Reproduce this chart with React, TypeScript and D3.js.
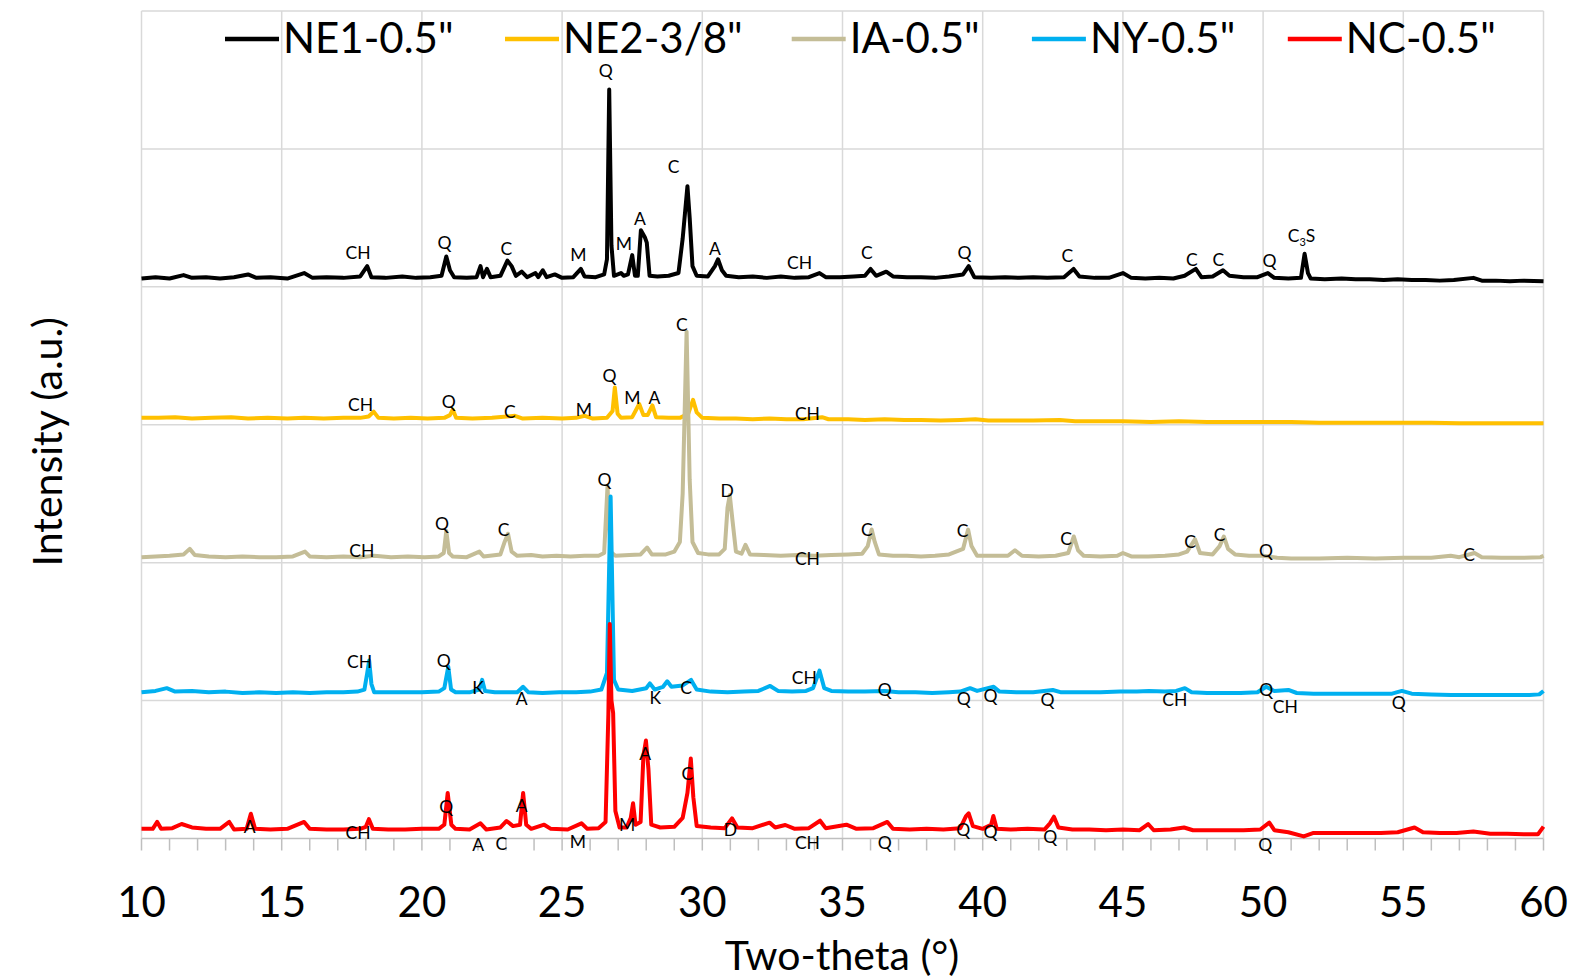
import React from 'react';
import * as d3 from 'd3';

type Pt = [number, number];
type Lbl = [number, number, string];

const SERIES_NAMES = ['NE1-0.5"', 'NE2-3/8"', 'IA-0.5"', 'NY-0.5"', 'NC-0.5"'];
const COLORS = ['#000000', '#FFC000', '#C4BD97', '#00B0F0', '#FF0000'];
const X_TICKS = [10, 15, 20, 25, 30, 35, 40, 45, 50, 55, 60];
const Y_GRID = [0, 1, 2, 3, 4, 5, 6];

const NE1: Pt[] = [[10.0,4.06],[10.5,4.07],[11.0,4.06],[11.5,4.085],[11.8,4.065],[12.3,4.07],[12.8,4.06],[13.3,4.07],[13.8,4.09],[14.1,4.065],[14.6,4.07],[15.2,4.06],[15.8,4.10],[16.1,4.065],[16.6,4.07],[17.2,4.065],[17.8,4.075],[18.05,4.15],[18.2,4.07],[18.7,4.065],[19.3,4.075],[19.8,4.065],[20.3,4.07],[20.7,4.08],[20.87,4.22],[21.0,4.12],[21.15,4.07],[21.6,4.065],[21.95,4.07],[22.09,4.15],[22.18,4.07],[22.32,4.13],[22.45,4.07],[22.8,4.08],[23.05,4.19],[23.2,4.15],[23.35,4.08],[23.56,4.11],[23.75,4.07],[24.05,4.10],[24.15,4.07],[24.31,4.12],[24.45,4.07],[24.74,4.09],[25.0,4.065],[25.4,4.07],[25.67,4.13],[25.8,4.075],[26.2,4.07],[26.5,4.09],[26.6,4.2],[26.68,5.43],[26.76,4.3],[26.85,4.08],[27.1,4.10],[27.2,4.08],[27.35,4.09],[27.5,4.23],[27.6,4.08],[27.7,4.08],[27.81,4.41],[27.95,4.36],[28.02,4.32],[28.12,4.08],[28.4,4.075],[28.8,4.08],[29.15,4.1],[29.3,4.35],[29.47,4.73],[29.55,4.5],[29.65,4.15],[29.8,4.08],[30.2,4.075],[30.45,4.15],[30.56,4.2],[30.7,4.12],[30.85,4.08],[31.3,4.07],[31.8,4.075],[32.3,4.065],[32.8,4.075],[33.3,4.065],[33.8,4.07],[34.18,4.1],[34.4,4.07],[34.9,4.07],[35.4,4.075],[35.8,4.08],[36.0,4.13],[36.2,4.08],[36.56,4.11],[36.8,4.075],[37.3,4.07],[37.8,4.07],[38.3,4.065],[38.8,4.075],[39.3,4.09],[39.5,4.15],[39.7,4.07],[40.3,4.065],[40.8,4.07],[41.3,4.065],[41.8,4.07],[42.3,4.065],[42.9,4.07],[43.24,4.13],[43.45,4.075],[44.0,4.065],[44.5,4.065],[45.0,4.10],[45.3,4.065],[45.8,4.06],[46.3,4.065],[46.8,4.06],[47.2,4.08],[47.6,4.13],[47.8,4.07],[48.2,4.075],[48.57,4.12],[48.8,4.08],[49.3,4.07],[49.8,4.07],[50.17,4.10],[50.4,4.065],[50.9,4.06],[51.35,4.065],[51.48,4.24],[51.6,4.10],[51.7,4.06],[52.2,4.055],[52.8,4.06],[53.3,4.055],[53.8,4.055],[54.3,4.05],[54.8,4.055],[55.3,4.05],[55.8,4.05],[56.3,4.045],[56.8,4.05],[57.5,4.065],[57.8,4.045],[58.3,4.045],[58.8,4.04],[59.3,4.045],[60,4.04]];

const NE2: Pt[] = [[10,3.05],[10.6,3.05],[11.2,3.055],[11.8,3.045],[12.5,3.05],[13.2,3.055],[13.8,3.045],[14.5,3.05],[15.2,3.045],[15.8,3.05],[16.5,3.045],[17.2,3.05],[17.8,3.05],[18.1,3.06],[18.28,3.095],[18.45,3.05],[19.0,3.045],[19.6,3.05],[20.2,3.045],[20.8,3.05],[21.0,3.07],[21.1,3.11],[21.22,3.05],[21.8,3.045],[22.5,3.05],[23.32,3.065],[23.6,3.045],[24.3,3.05],[25.0,3.045],[25.5,3.05],[25.81,3.065],[26.1,3.045],[26.6,3.05],[26.8,3.1],[26.88,3.27],[26.98,3.08],[27.1,3.05],[27.5,3.055],[27.75,3.15],[27.9,3.07],[28.05,3.07],[28.22,3.14],[28.35,3.055],[28.8,3.05],[29.2,3.05],[29.5,3.08],[29.67,3.18],[29.8,3.09],[30.0,3.05],[30.6,3.045],[31.2,3.045],[31.8,3.04],[32.4,3.045],[33.0,3.04],[33.6,3.04],[34.27,3.055],[34.5,3.04],[35.2,3.04],[35.8,3.035],[36.5,3.04],[37.2,3.035],[37.8,3.035],[38.5,3.03],[39.2,3.035],[39.74,3.04],[40.2,3.03],[41.0,3.03],[41.8,3.03],[42.75,3.035],[43.3,3.025],[44.0,3.025],[45.0,3.025],[46.0,3.02],[47.0,3.025],[48.0,3.02],[49.0,3.02],[50.0,3.02],[51.0,3.02],[52.0,3.015],[53.0,3.015],[54.0,3.015],[55.0,3.015],[56.0,3.015],[57.0,3.01],[58.0,3.01],[59.0,3.01],[60,3.01]];

const IA: Pt[] = [[10,2.04],[10.5,2.045],[11.0,2.05],[11.5,2.06],[11.72,2.10],[11.9,2.055],[12.4,2.045],[13.0,2.04],[13.6,2.045],[14.2,2.04],[14.8,2.04],[15.4,2.045],[15.83,2.08],[16.0,2.045],[16.6,2.04],[17.2,2.045],[17.8,2.04],[18.3,2.05],[18.9,2.04],[19.5,2.045],[20.1,2.04],[20.6,2.045],[20.78,2.07],[20.87,2.23],[20.97,2.07],[21.1,2.045],[21.6,2.04],[22.05,2.08],[22.2,2.045],[22.8,2.06],[22.95,2.15],[23.07,2.21],[23.2,2.08],[23.4,2.05],[23.9,2.055],[24.3,2.045],[24.8,2.05],[25.3,2.045],[25.8,2.05],[26.3,2.05],[26.5,2.07],[26.62,2.556],[26.72,2.08],[26.9,2.05],[27.4,2.055],[27.8,2.06],[28.03,2.11],[28.2,2.06],[28.7,2.06],[29.0,2.08],[29.2,2.15],[29.3,2.5],[29.44,3.675],[29.55,2.6],[29.65,2.15],[29.85,2.07],[30.2,2.06],[30.6,2.06],[30.8,2.1],[30.9,2.4],[30.98,2.49],[31.08,2.3],[31.2,2.08],[31.4,2.065],[31.54,2.13],[31.7,2.06],[32.2,2.055],[32.8,2.05],[33.4,2.055],[34.0,2.05],[34.6,2.055],[35.2,2.06],[35.7,2.065],[35.9,2.12],[36.04,2.24],[36.15,2.15],[36.3,2.06],[36.8,2.05],[37.3,2.05],[37.8,2.045],[38.3,2.05],[38.8,2.06],[39.3,2.1],[39.48,2.24],[39.6,2.12],[39.8,2.05],[40.4,2.05],[40.9,2.05],[41.15,2.09],[41.4,2.05],[42.0,2.045],[42.6,2.05],[43.05,2.07],[43.25,2.19],[43.4,2.09],[43.6,2.05],[44.2,2.045],[44.8,2.05],[45.0,2.07],[45.3,2.045],[45.9,2.045],[46.5,2.05],[47.0,2.06],[47.29,2.08],[47.57,2.17],[47.75,2.07],[48.2,2.06],[48.45,2.12],[48.6,2.19],[48.75,2.1],[49.0,2.06],[49.5,2.05],[50.0,2.05],[50.5,2.035],[51.0,2.03],[52.0,2.03],[53.0,2.035],[54.0,2.03],[55.0,2.035],[56.0,2.035],[56.69,2.05],[57.0,2.04],[57.54,2.07],[57.8,2.04],[58.5,2.035],[59.3,2.035],[59.9,2.04],[60,2.05]];

const NY: Pt[] = [[10,1.06],[10.5,1.07],[10.9,1.09],[11.2,1.065],[11.8,1.07],[12.4,1.06],[13.0,1.065],[13.6,1.055],[14.2,1.06],[14.8,1.055],[15.4,1.06],[16.0,1.055],[16.6,1.06],[17.2,1.06],[17.7,1.065],[17.95,1.08],[18.05,1.2],[18.12,1.29],[18.2,1.12],[18.3,1.06],[18.8,1.06],[19.4,1.06],[20.0,1.06],[20.6,1.065],[20.8,1.09],[20.94,1.245],[21.04,1.08],[21.2,1.06],[21.7,1.06],[22.05,1.08],[22.15,1.15],[22.25,1.07],[22.6,1.06],[23.0,1.06],[23.4,1.06],[23.61,1.10],[23.8,1.06],[24.3,1.055],[24.9,1.06],[25.5,1.06],[26.0,1.065],[26.4,1.08],[26.6,1.2],[26.73,2.48],[26.85,1.15],[27.0,1.08],[27.5,1.07],[28.0,1.09],[28.13,1.125],[28.3,1.08],[28.6,1.1],[28.75,1.14],[28.9,1.1],[29.3,1.11],[29.6,1.15],[29.8,1.08],[30.3,1.065],[30.9,1.06],[31.5,1.065],[32.0,1.07],[32.42,1.106],[32.7,1.07],[33.2,1.065],[33.7,1.07],[33.95,1.09],[34.18,1.217],[34.35,1.09],[34.6,1.07],[35.2,1.065],[35.8,1.065],[36.5,1.07],[37.0,1.06],[37.6,1.06],[38.2,1.055],[38.8,1.06],[39.2,1.065],[39.55,1.09],[39.8,1.07],[40.39,1.10],[40.6,1.065],[41.2,1.06],[41.8,1.06],[42.5,1.077],[42.8,1.06],[43.5,1.06],[44.2,1.06],[44.9,1.065],[45.5,1.065],[45.93,1.07],[46.5,1.065],[46.9,1.07],[47.21,1.09],[47.45,1.06],[48.0,1.055],[48.6,1.055],[49.2,1.055],[49.8,1.06],[50.11,1.10],[50.4,1.07],[50.9,1.077],[51.2,1.055],[51.8,1.05],[52.5,1.05],[53.2,1.05],[53.9,1.05],[54.6,1.05],[54.95,1.07],[55.3,1.05],[56.0,1.045],[56.7,1.04],[57.4,1.04],[58.1,1.04],[58.8,1.04],[59.5,1.04],[59.85,1.045],[60,1.07]];

const NC: Pt[] = [[10,0.07],[10.4,0.07],[10.56,0.12],[10.7,0.07],[11.1,0.075],[11.43,0.105],[11.8,0.08],[12.3,0.07],[12.8,0.07],[13.13,0.12],[13.3,0.065],[13.75,0.07],[13.9,0.18],[14.05,0.07],[14.6,0.065],[15.2,0.07],[15.8,0.12],[16.0,0.07],[16.6,0.065],[17.2,0.065],[17.8,0.07],[18.0,0.085],[18.11,0.14],[18.25,0.07],[18.8,0.065],[19.4,0.065],[20.0,0.07],[20.6,0.07],[20.8,0.1],[20.92,0.33],[21.05,0.1],[21.2,0.07],[21.7,0.065],[22.09,0.11],[22.3,0.065],[22.8,0.08],[23.02,0.127],[23.25,0.09],[23.5,0.1],[23.61,0.33],[23.72,0.1],[23.9,0.07],[24.36,0.10],[24.6,0.07],[25.2,0.065],[25.69,0.11],[25.9,0.07],[26.3,0.075],[26.55,0.12],[26.65,0.9],[26.7,1.555],[26.76,1.0],[26.82,0.91],[26.9,0.2],[27.05,0.08],[27.3,0.08],[27.45,0.15],[27.53,0.255],[27.62,0.1],[27.8,0.12],[27.9,0.6],[27.99,0.71],[28.08,0.5],[28.18,0.1],[28.5,0.08],[29.0,0.085],[29.3,0.15],[29.47,0.33],[29.59,0.58],[29.68,0.3],[29.8,0.09],[30.3,0.08],[30.8,0.075],[31.06,0.146],[31.25,0.08],[31.8,0.075],[32.4,0.115],[32.6,0.08],[32.96,0.098],[33.3,0.07],[33.8,0.075],[34.2,0.129],[34.4,0.075],[35.14,0.10],[35.5,0.07],[36.1,0.075],[36.6,0.12],[36.8,0.07],[37.4,0.065],[38.0,0.07],[38.6,0.065],[39.2,0.075],[39.4,0.16],[39.5,0.183],[39.65,0.09],[40.0,0.07],[40.3,0.1],[40.38,0.163],[40.5,0.07],[41.0,0.065],[41.6,0.07],[42.2,0.065],[42.4,0.11],[42.54,0.158],[42.7,0.08],[43.2,0.065],[43.8,0.065],[44.4,0.06],[45.0,0.065],[45.6,0.06],[45.9,0.105],[46.1,0.06],[46.7,0.065],[47.18,0.08],[47.5,0.06],[48.1,0.06],[48.7,0.06],[49.3,0.06],[49.9,0.065],[50.22,0.115],[50.4,0.06],[50.9,0.045],[51.45,0.015],[51.8,0.04],[52.4,0.04],[53.0,0.04],[53.6,0.04],[54.2,0.04],[54.8,0.045],[55.4,0.08],[55.7,0.045],[56.3,0.04],[56.9,0.04],[57.5,0.05],[58.1,0.035],[58.7,0.035],[59.3,0.03],[59.8,0.03],[60,0.086]];

const SERIES: Pt[][] = [NE1, NE2, IA, NY, NC];

const LABELS_NE1: Lbl[] = [[17.72,4.248,'CH'],[20.81,4.323,'Q'],[23.01,4.28,'C'],[25.58,4.236,'M'],[26.56,5.57,'Q'],[27.2,4.31,'M'],[27.78,4.497,'A'],[28.98,4.872,'C'],[30.45,4.28,'A'],[33.47,4.175,'CH'],[35.87,4.244,'C'],[39.35,4.251,'Q'],[43.02,4.224,'C'],[47.46,4.195,'C'],[48.4,4.2,'C'],[50.23,4.188,'Q'],[51.37,4.37,'C3S']];
const LABELS_NE2: Lbl[] = [[17.81,3.144,'CH'],[20.96,3.168,'Q'],[23.14,3.095,'C'],[25.78,3.107,'M'],[26.69,3.354,'Q'],[27.51,3.197,'M'],[28.29,3.197,'A'],[33.75,3.083,'CH']];
const LABELS_IA: Lbl[] = [[29.27,3.729,'C'],[26.51,2.6,'Q'],[30.89,2.522,'D'],[20.72,2.281,'Q'],[22.91,2.237,'C'],[17.86,2.085,'CH'],[33.75,2.032,'CH'],[35.87,2.242,'C'],[39.28,2.232,'C'],[42.97,2.177,'C'],[47.4,2.152,'C'],[48.45,2.201,'C'],[50.1,2.087,'Q'],[57.35,2.056,'C']];
const LABELS_NY: Lbl[] = [[17.78,1.282,'CH'],[20.78,1.289,'Q'],[22.0,1.096,'K'],[23.56,1.017,'A'],[28.32,1.024,'K'],[29.42,1.096,'C'],[33.64,1.166,'CH'],[36.51,1.082,'Q'],[39.32,1.017,'Q'],[40.28,1.033,'Q'],[42.31,1.004,'Q'],[46.85,1.009,'CH'],[50.11,1.082,'Q'],[50.79,0.956,'CH'],[54.84,0.985,'Q']];
const LABELS_NC: Lbl[] = [[13.86,0.086,'A'],[17.72,0.045,'CH'],[20.87,0.231,'Q'],[22.01,-0.047,'A'],[22.83,-0.035,'C'],[23.56,0.236,'A'],[25.56,-0.023,'M'],[27.32,0.103,'M'],[27.96,0.618,'A'],[29.47,0.473,'C'],[31.0,0.062,'D'],[33.75,-0.03,'CH'],[36.51,-0.03,'Q'],[39.31,0.062,'Q'],[40.28,0.049,'Q'],[42.41,0.013,'Q'],[50.08,-0.047,'Q']];
const ALL_LABELS: Lbl[] = [...LABELS_NE1, ...LABELS_NE2, ...LABELS_IA, ...LABELS_NY, ...LABELS_NC];

const X_TITLE = 'Two-theta (°)';
const Y_TITLE = 'Intensity (a.u.)';

export default function App() {
  const W = 1578, H = 980;
  const x = d3.scaleLinear().domain([10, 60]).range([141.5, 1543.5]);
  const y = d3.scaleLinear().domain([0, 6]).range([838.5, 11]);
  const line = d3.line<Pt>().x(d => x(d[0])).y(d => y(d[1]));
  const font = "Lato, 'Open Sans', sans-serif";
  const minorTicks = x.ticks(50);
  const legendX = [225, 505, 791.7, 1031.9, 1287.8];

  return (
    <svg width={W} height={H} style={{ position: 'absolute', left: 0, top: 0 }} fontFamily={font}>
      <rect width={W} height={H} fill="#ffffff" />
      {X_TICKS.map(t => (
        <line key={'vx' + t} x1={x(t)} x2={x(t)} y1={y(6)} y2={y(0)} stroke="#d9d9d9" strokeWidth={1.5} />
      ))}
      {Y_GRID.map(t => (
        <line key={'hy' + t} x1={x(10)} x2={x(60)} y1={y(t)} y2={y(t)} stroke={t === 0 ? '#bfbfbf' : '#d9d9d9'} strokeWidth={1.5} />
      ))}
      {minorTicks.map(t => (
        <line key={'mt' + t} x1={x(t)} x2={x(t)} y1={y(0)} y2={y(0) + 12} stroke="#bfbfbf" strokeWidth={1.5} />
      ))}
      {X_TICKS.map(t => (
        <text key={'tl' + t} x={x(t)} y={917} textAnchor="middle" fontSize={42} fill="#000">{t}</text>
      ))}
      {SERIES.map((s, i) => (
        <path key={'s' + i} d={line(s) || ''} fill="none" stroke={COLORS[i]} strokeWidth={4} strokeLinejoin="round" />
      ))}
      {ALL_LABELS.map((l, i) => (
        l[2] === 'C3S' ? (
          <text key={'l' + i} x={x(l[0])} y={y(l[1])} dy="0.36em" textAnchor="middle" fontSize={17.5} fill="#000">
            C<tspan fontSize={11} dy={4}>3</tspan><tspan dy={-4}>S</tspan>
          </text>
        ) : (
          <text key={'l' + i} x={x(l[0])} y={y(l[1])} dy="0.36em" textAnchor="middle" fontSize={17.5} fill="#000">{l[2]}</text>
        )
      ))}
      {SERIES_NAMES.map((n, i) => (
        <g key={'lg' + i}>
          <line x1={legendX[i]} x2={legendX[i] + 54} y1={39} y2={39} stroke={COLORS[i]} strokeWidth={4.5} />
          <text x={legendX[i] + 58} y={52.7} fontSize={42} fill="#000">{n}</text>
        </g>
      ))}
      <text x={842} y={970} textAnchor="middle" fontSize={41} fill="#000">{X_TITLE}</text>
      <text transform="translate(62,441.7) rotate(-90)" textAnchor="middle" fontSize={41} fill="#000">{Y_TITLE}</text>
    </svg>
  );
}
